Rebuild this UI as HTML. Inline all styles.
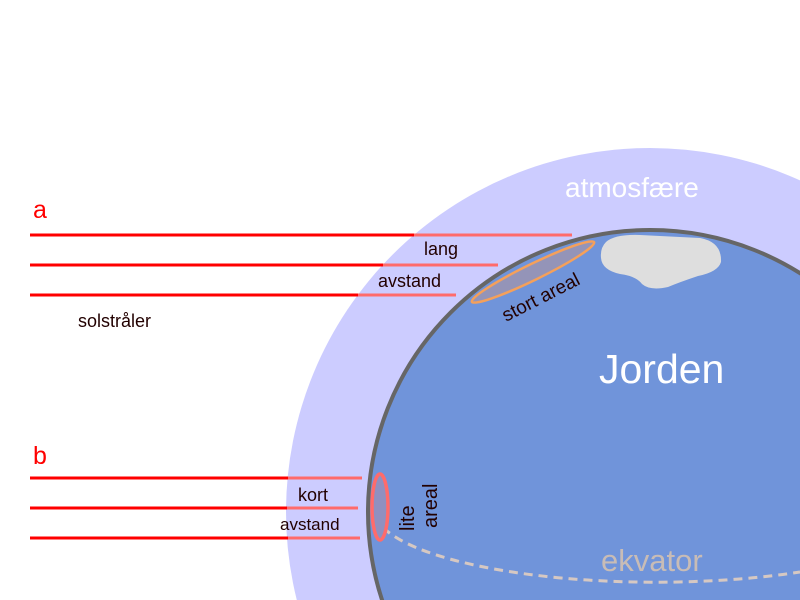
<!DOCTYPE html>
<html><head><meta charset="utf-8"><style>html,body{margin:0;padding:0;background:#fff;width:800px;height:600px;overflow:hidden}svg{display:block}</style></head>
<body>
<svg width="800" height="600" viewBox="0 0 800 600" xmlns="http://www.w3.org/2000/svg" font-family="Liberation Sans, Arial, sans-serif">
<rect width="800" height="600" fill="#fff"/>
<circle cx="650" cy="512" r="364" fill="#ccccff"/>
<circle cx="650" cy="512" r="282" fill="#7094da" stroke="#666" stroke-width="4"/>
<path d="M606,242 Q615,234 640,235 L700,238 Q722,242 721,262 Q718,272 698,276 Q680,282 668,287 Q650,291 642,284 Q636,276 620,274 Q602,270 601,258 Q600,248 606,242 Z" fill="#dedede"/>
<path d="M375,515 A282,73 0 0 0 800,572" fill="none" stroke="#d6c8c2" stroke-width="3" stroke-dasharray="9,6"/>
<g stroke-width="3">
<line x1="30" y1="235" x2="414" y2="235" stroke="#f00"/><line x1="414" y1="235" x2="572" y2="235" stroke="#ff6b6b"/>
<line x1="30" y1="265" x2="383" y2="265" stroke="#f00"/><line x1="383" y1="265" x2="498" y2="265" stroke="#ff6b6b"/>
<line x1="30" y1="295" x2="358" y2="295" stroke="#f00"/><line x1="358" y1="295" x2="456" y2="295" stroke="#ff6b6b"/>
<line x1="30" y1="478" x2="288" y2="478" stroke="#f00"/><line x1="288" y1="478" x2="362" y2="478" stroke="#ff6b6b"/>
<line x1="30" y1="508" x2="287" y2="508" stroke="#f00"/><line x1="287" y1="508" x2="358" y2="508" stroke="#ff6b6b"/>
<line x1="30" y1="538" x2="288" y2="538" stroke="#f00"/><line x1="288" y1="538" x2="360" y2="538" stroke="#ff6b6b"/>
</g>
<ellipse cx="533" cy="272" rx="68" ry="8" transform="rotate(-26 533 272)" fill="#9494b8" stroke="#f5a05a" stroke-width="2.5"/>
<ellipse cx="380" cy="507" rx="8" ry="33" fill="#9090c0" stroke="#ff6b6b" stroke-width="3.5"/>
<g fill="#f00" font-size="25"><text x="33" y="218">a</text><text x="33" y="464">b</text></g>
<g fill="#200" font-size="18">
<text x="424" y="255">lang</text>
<text x="378" y="287">avstand</text>
<text x="78" y="327">solstråler</text>
<text x="298" y="501">kort</text>
<text x="280" y="530" font-size="17">avstand</text>
<text transform="translate(506,322) rotate(-27)" font-size="19">stort areal</text>
<text transform="translate(414,531) rotate(-90)" font-size="20">lite</text>
<text transform="translate(437,528) rotate(-90)" font-size="20">areal</text>
</g>
<text x="565" y="197" fill="#fff" font-size="28">atmosfære</text>
<text x="599" y="383" fill="#fff" font-size="41">Jorden</text>
<text x="601" y="571" fill="#c8bcb6" font-size="31">ekvator</text>
</svg>
</body></html>
